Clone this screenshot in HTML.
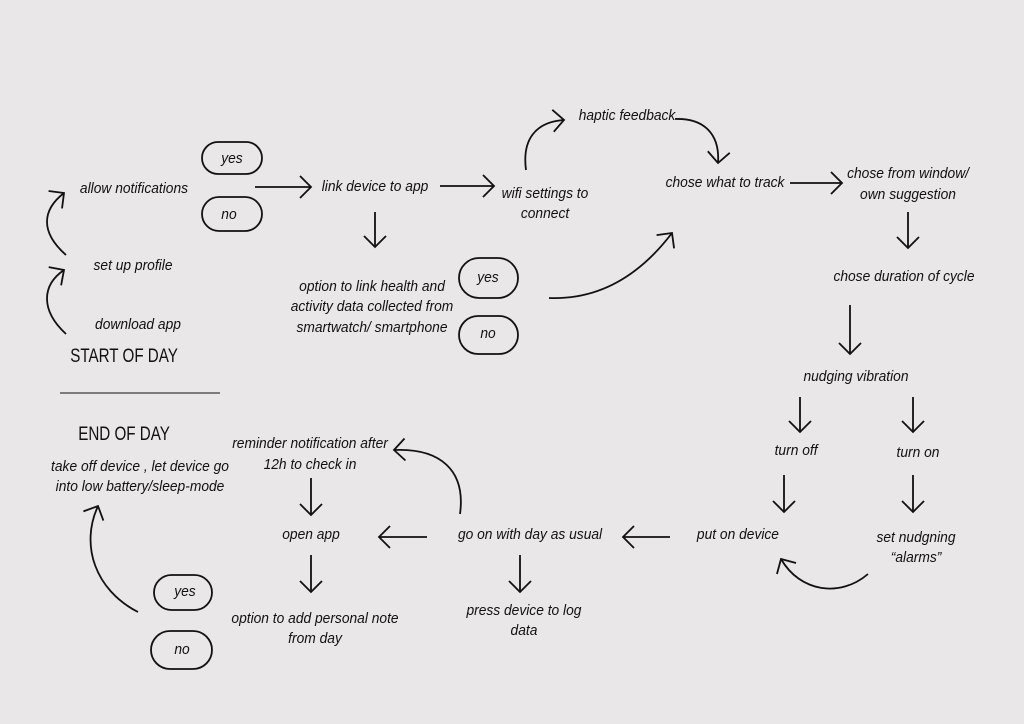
<!DOCTYPE html>
<html><head><meta charset="utf-8"><style>
html,body{margin:0;padding:0;background:#e9e7e7;}
svg{display:block;}
text{font-family:"Liberation Sans Narrow","Liberation Sans",sans-serif;font-style:italic;font-size:15px;fill:#111;text-anchor:middle;transform-box:fill-box;transform-origin:center;transform:scaleX(0.92);}
.t{font-size:19px;font-style:normal;transform:scaleX(0.8);}
</style></head><body>
<svg width="1024" height="724" viewBox="0 0 1024 724">
<defs>
<marker id="a" markerUnits="userSpaceOnUse" markerWidth="26" markerHeight="26" refX="13" refY="13" orient="auto">
<path d="M2 2 L13 13 L2 24" fill="none" stroke="#111" stroke-width="1.8"/>
</marker>
</defs>
<rect width="1024" height="724" fill="#e9e7e7"/>
<g fill="none" stroke="#111" stroke-width="1.8">
<path d="M66 334 C40 310 42 285 64 270" marker-end="url(#a)"/>
<path d="M66 255 C40 232 42 210 64 193" marker-end="url(#a)"/>
<line x1="60" y1="393" x2="220" y2="393" stroke-width="1"/>
<rect x="202" y="142" width="60" height="32" rx="16"/>
<rect x="202" y="197" width="60" height="34" rx="17"/>
<line x1="255" y1="187" x2="311" y2="187" marker-end="url(#a)"/>
<line x1="440" y1="186" x2="494" y2="186" marker-end="url(#a)"/>
<line x1="375" y1="212" x2="375" y2="247" marker-end="url(#a)"/>
<rect x="459" y="258" width="59" height="40" rx="20"/>
<rect x="459" y="316" width="59" height="38" rx="19"/>
<path d="M549 298 C600 300 640 275 672 233" marker-end="url(#a)"/>
<path d="M526 170 C522 140 535 122 564 120" marker-end="url(#a)"/>
<path d="M675 119 C705 118 720 135 718 163" marker-end="url(#a)"/>
<line x1="790" y1="183" x2="842" y2="183" marker-end="url(#a)"/>
<line x1="908" y1="212" x2="908" y2="248" marker-end="url(#a)"/>
<line x1="850" y1="305" x2="850" y2="354" marker-end="url(#a)"/>
<line x1="800" y1="397" x2="800" y2="432" marker-end="url(#a)"/>
<line x1="913" y1="397" x2="913" y2="432" marker-end="url(#a)"/>
<line x1="784" y1="475" x2="784" y2="512" marker-end="url(#a)"/>
<line x1="913" y1="475" x2="913" y2="512" marker-end="url(#a)"/>
<path d="M868 574 C840 598 800 592 781 559" marker-end="url(#a)"/>
<line x1="670" y1="537" x2="623" y2="537" marker-end="url(#a)"/>
<line x1="427" y1="537" x2="379" y2="537" marker-end="url(#a)"/>
<line x1="520" y1="555" x2="520" y2="592" marker-end="url(#a)"/>
<line x1="311" y1="555" x2="311" y2="592" marker-end="url(#a)"/>
<line x1="311" y1="478" x2="311" y2="515" marker-end="url(#a)"/>
<path d="M460 514 C466 470 440 448 394 450" marker-end="url(#a)"/>
<rect x="154" y="575" width="58" height="35" rx="17.5"/>
<rect x="151" y="631" width="61" height="38" rx="19"/>
<path d="M138 612 C95 590 80 545 98 506" marker-end="url(#a)"/>
</g>
<text x="134" y="193">allow notifications</text>
<text x="133" y="270">set up profile</text>
<text x="138" y="329">download app</text>
<text x="124" y="362" class="t">START OF DAY</text>
<text x="124" y="440" class="t">END OF DAY</text>
<text x="140" y="471">take off device , let device go</text>
<text x="140" y="491">into low battery/sleep-mode</text>
<text x="232" y="163">yes</text>
<text x="229" y="219">no</text>
<text x="375" y="191">link device to  app</text>
<text x="545" y="198">wifi settings to</text>
<text x="545" y="218">connect</text>
<text x="372" y="291">option to link health and</text>
<text x="372" y="311">activity data collected from</text>
<text x="372" y="332">smartwatch/ smartphone</text>
<text x="488" y="282">yes</text>
<text x="488" y="338">no</text>
<text x="627" y="120">haptic feedback</text>
<text x="725" y="187">chose what to track</text>
<text x="908" y="178">chose from window/</text>
<text x="908" y="199">own suggestion</text>
<text x="904" y="281">chose duration of cycle</text>
<text x="856" y="381">nudging vibration</text>
<text x="796" y="455">turn off</text>
<text x="918" y="457">turn on</text>
<text x="738" y="539">put on device</text>
<text x="916" y="542">set nudgning</text>
<text x="916" y="562">“alarms”</text>
<text x="530" y="539">go on with day as usual</text>
<text x="311" y="539">open app</text>
<text x="524" y="615">press device to log</text>
<text x="524" y="635">data</text>
<text x="315" y="623">option to add personal note</text>
<text x="315" y="643">from day</text>
<text x="310" y="448">reminder notification after</text>
<text x="310" y="469">12h to check in</text>
<text x="185" y="596">yes</text>
<text x="182" y="654">no</text>
</svg>
</body></html>
